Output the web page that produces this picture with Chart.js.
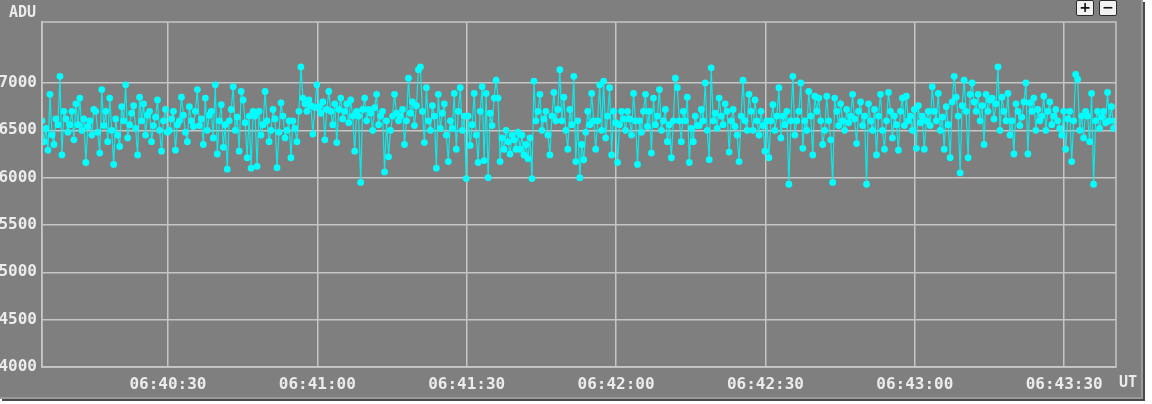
<!DOCTYPE html>
<html>
<head>
<meta charset="utf-8">
<script src="https://cdn.jsdelivr.net/npm/chart.js@4/dist/chart.umd.min.js"></script>
<style>
  html, body { margin: 0; padding: 0; background: #ffffff; }
  #frame {
    position: absolute; left: 0; top: 0;
    width: 1141px; height: 397px;
    background: #7f7f7f;
    border-right: 2px solid #9a9a9a;
    border-bottom: 2px solid #9a9a9a;
    box-shadow: 2px 2px 0 #4a4a4a;
  }
  canvas { position: absolute; left: 0; top: 0; }
  .zbtn {
    position: absolute; top: 0; width: 16px; height: 14px;
    background: #f2f2f2; border: 1px solid #2a2a2a; border-radius: 2px;
    font: bold 14px "DejaVu Sans", sans-serif; line-height: 13px;
    text-align: center; color: #111;
  }
</style>
</head>
<body>
<div id="frame">
  <canvas id="chart" width="1141" height="397"></canvas>
  <div class="zbtn" style="left:1076px">+</div>
  <div class="zbtn" style="left:1099px">−</div>
</div>
<script>
// sampling: seconds after 06:40:00 UT
const startSec = 4.7;
const stepSec = 0.4;
const xMin = 4.7;
const xMax = 220.4;
const xTicks = [30, 60, 90, 120, 150, 180, 210];
const yTicks = [4000, 4500, 5000, 5500, 6000, 6500, 7000];
const yMin = 4000;
const yMax = 7644;

// ADU readings (30 per row, 12 s each)
const adu = [
  6600, 6380, 6520, 6290, 6880, 6450, 6350, 6620, 6560, 7070, 6240, 6700, 6620, 6480, 6560, 6700, 6400, 6780, 6560, 6840, 6500, 6620, 6160, 6540, 6600, 6450, 6720, 6700, 6480, 6260,
  6930, 6550, 6700, 6380, 6840, 6500, 6140, 6620, 6450, 6330, 6750, 6600, 6980, 6420, 6560, 6680, 6760, 6520, 6240, 6850, 6600, 6780, 6450, 6660, 6700, 6380, 6550, 6640, 6820, 6500,
  6280, 6600, 6720, 6480, 6500, 6620, 6700, 6290, 6560, 6600, 6850, 6660, 6480, 6380, 6750, 6600, 6540, 6700, 6930, 6550, 6620, 6350, 6840, 6500, 6660, 6700, 6420, 6980, 6250, 6600,
  6770, 6320, 6560, 6090, 6600, 6720, 6960, 6500, 6640, 6280, 6910, 6820, 6580, 6210, 6650, 6100, 6700, 6650, 6120, 6700, 6450, 6560, 6910, 6600, 6380, 6500, 6720, 6620, 6105, 6480,
  6790, 6650, 6420, 6500, 6600, 6210, 6600, 6520, 6380, 6700, 7170, 6840, 6780, 6700, 6820, 6760, 6460, 6740, 6980, 6750, 6680, 6800, 6400, 6720, 6910, 6700, 6560, 6780, 6370, 6720,
  6840, 6620, 6700, 6780, 6580, 6820, 6650, 6280, 6700, 6650, 5950, 6720, 6840, 6600, 6720, 6680, 6500, 6740, 6880, 6560, 6650, 6700, 6060, 6600, 6220, 6500, 6650, 6880, 6680, 6600,
  6650, 6720, 6350, 6600, 7050, 6680, 6800, 6550, 6760, 7140, 7170, 6700, 6370, 6950, 6600, 6500, 6760, 6650, 6100, 6880, 6520, 6680, 6780, 6450, 6170, 6600, 6520, 6890, 6300, 6700,
  6950, 6500, 6650, 5990, 6650, 6340, 6560, 6890, 6450, 6160, 6700, 6960, 6180, 6890, 6000, 6680, 6550, 6840, 7030, 6840, 6170, 6420, 6300, 6500, 6380, 6250, 6450, 6400, 6300, 6480,
  6300, 6450, 6240, 6350, 6200, 6420, 5990, 7020, 6600, 6700, 6880, 6500, 6620, 6700, 6450, 6240, 6650, 6900, 6600, 6720, 7140, 6600, 6850, 6500, 6300, 6720, 6560, 7070, 6170, 6600,
  6000, 6350, 6190, 6480, 6700, 6560, 6890, 6600, 6300, 6600, 6980, 6500, 7020, 6420, 6650, 6950, 6240, 6700, 6580, 6160, 6560, 6700, 6620, 6500, 6700, 6620, 6450, 6890, 6600, 6140,
  6600, 6480, 6700, 6880, 6540, 6700, 6260, 6840, 6560, 6650, 6930, 6500, 6600, 6720, 6380, 6560, 6210, 6600, 7050, 6950, 6600, 6380, 6700, 6600, 6850, 6160, 6520, 6380, 6650, 6550,
  6550, 6720, 6600, 7000, 6500, 6190, 7160, 6600, 6680, 6520, 6840, 6650, 6560, 6780, 6700, 6270, 6600, 6720, 6540, 6450, 6170, 6650, 7030, 6600, 6500, 6880, 6700, 6500, 6820, 6600,
  6450, 6700, 6550, 6280, 6600, 6210, 6600, 6770, 6500, 6650, 6950, 6420, 6650, 6560, 6700, 5930, 6600, 7070, 6450, 6600, 6700, 7000, 6310, 6600, 6500, 6910, 6650, 6240, 6860, 6700,
  6840, 6600, 6350, 6500, 6860, 6600, 6400, 5950, 6840, 6700, 6550, 6780, 6600, 6500, 6720, 6580, 6650, 6880, 6620, 6360, 6700, 6800, 6550, 6650, 5930, 6780, 6600, 6500, 6720, 6240,
  6650, 6880, 6500, 6300, 6600, 6900, 6700, 6420, 6650, 6560, 6290, 6700, 6840, 6550, 6860, 6600, 6650, 6500, 6720, 6310, 6760, 6580, 6650, 6300, 6600, 6700, 6550, 6960, 6700, 6600,
  6890, 6500, 6640, 6300, 6750, 6560, 6210, 6800, 7070, 6850, 6650, 6050, 6760, 7030, 6700, 6210, 6880, 7000, 6800, 6700, 6880, 6600, 6760, 6350, 6880, 6700, 6820, 6840, 6620, 6780,
  7170, 6500, 6850, 6700, 6600, 6890, 6450, 6600, 6250, 6780, 6700, 6550, 6640, 6800, 7000, 6250, 6790, 6700, 6840, 6500, 6720, 6600, 6650, 6860, 6500, 6700, 6800, 6560, 6650, 6720,
  6600, 6520, 6450, 6700, 6300, 6620, 6700, 6170, 6600, 7090, 7040, 6500, 6650, 6420, 6700, 6650, 6380, 6890, 5930, 6600, 6700, 6520, 6640, 6700, 6580, 6900, 6600, 6750, 6520, 6600
];

const points = adu.map((v, i) => ({ x: startSec + i * stepSec, y: v }));

const labelFont = { family: '"DejaVu Sans Mono", monospace', size: 16, weight: 'bold' };
const labelColor = '#ececec';
const gridColor = '#c6c6c6';

function fmtTime(sec) {
  const m = 40 + Math.floor(sec / 60);
  const s = Math.round(sec % 60);
  return `06:${String(m).padStart(2, '0')}:${String(s).padStart(2, '0')}`;
}

const extras = {
  id: 'extras',
  afterDraw(chart) {
    const { ctx, chartArea } = chart;
    ctx.save();
    ctx.strokeStyle = gridColor;
    ctx.lineWidth = 1.5;
    ctx.strokeRect(chartArea.left, chartArea.top, chartArea.right - chartArea.left, chartArea.bottom - chartArea.top);
    ctx.fillStyle = labelColor;
    ctx.font = `bold 15px "DejaVu Sans Mono", monospace`;
    ctx.textBaseline = 'middle';
    ctx.textAlign = 'left';
    ctx.fillText('ADU', 9, 13);
    ctx.fillText('UT', 1119, 383);
    ctx.restore();
  }
};

new Chart(document.getElementById('chart'), {
  type: 'line',
  data: {
    datasets: [{
      data: points,
      borderColor: 'rgba(0, 245, 245, 0.9)',
      borderWidth: 1.2,
      pointRadius: 3.4,
      pointBackgroundColor: '#00ffff',
      pointBorderWidth: 0,
      tension: 0
    }]
  },
  options: {
    responsive: false,
    animation: false,
    layout: { padding: { left: 0, right: 25, top: 22, bottom: 0 } },
    plugins: { legend: { display: false }, tooltip: { enabled: false } },
    scales: {
      x: {
        type: 'linear',
        min: xMin,
        max: xMax,
        afterBuildTicks: scale => { scale.ticks = xTicks.map(v => ({ value: v })); },
        afterFit: scale => { scale.height = 30; },
        ticks: {
          color: labelColor, font: labelFont, padding: 8, maxRotation: 0,
          callback: v => fmtTime(v)
        },
        grid: { color: gridColor, lineWidth: 1.5, drawTicks: false },
        border: { color: gridColor, width: 1.5 }
      },
      y: {
        min: yMin,
        max: yMax,
        afterBuildTicks: scale => { scale.ticks = yTicks.map(v => ({ value: v })); },
        afterFit: scale => { scale.width = 42; },
        ticks: { color: labelColor, font: labelFont, padding: 5, callback: v => String(v) },
        grid: { color: gridColor, lineWidth: 1.5, drawTicks: false },
        border: { color: gridColor, width: 1.5 }
      }
    }
  },
  plugins: [extras]
});
</script>
</body>
</html>
